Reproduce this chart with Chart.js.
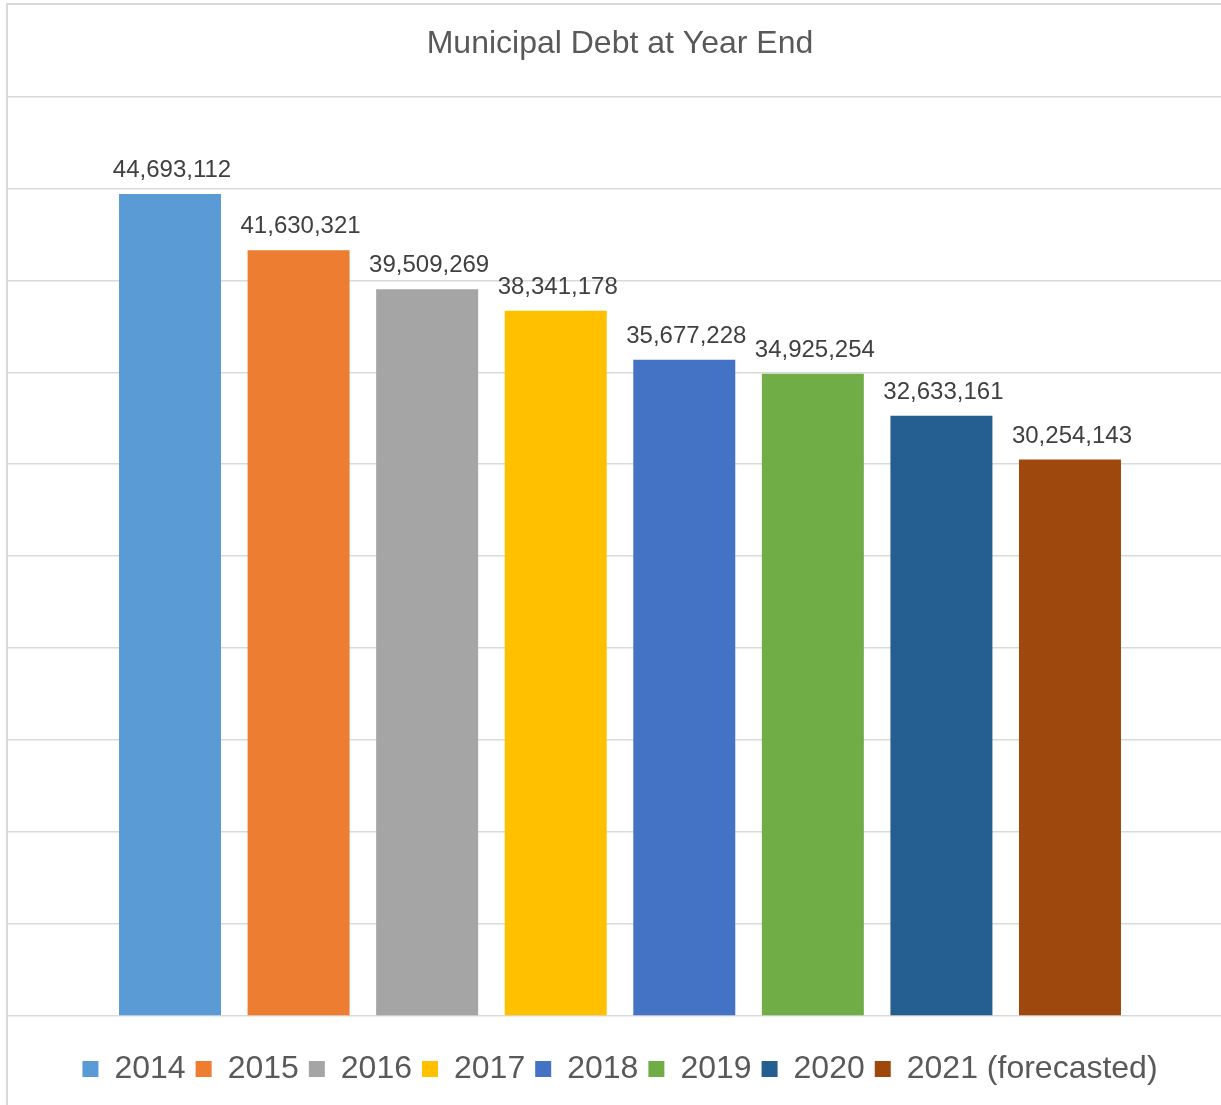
<!DOCTYPE html>
<html>
<head>
<meta charset="utf-8">
<script src="https://cdn.jsdelivr.net/npm/chart.js@4/dist/chart.umd.min.js"></script>
<style>
  html, body { margin: 0; padding: 0; overflow: hidden; background: #ffffff; width: 1221px; height: 1105px; }
  #wrap { position: absolute; left: 0; top: 0; width: 1240px; height: 1120px; }
  #frame { position: absolute; left: 6px; top: 3px; width: 2000px; height: 2000px;
           border-left: 2px solid #d9d9d9; border-top: 2px solid #d9d9d9; pointer-events: none; }
</style>
</head>
<body>
<div id="wrap"><canvas id="c" width="1240" height="1120"></canvas></div>
<div id="frame"></div>
<script>
const chartTitle = 'Municipal Debt at Year End';
const seriesNames = ['2014', '2015', '2016', '2017', '2018', '2019', '2020', '2021 (forecasted)'];
const seriesValues = [44693112, 41630321, 39509269, 38341178, 35677228, 34925254, 32633161, 30254143];
const seriesColors = ['#5B9BD5', '#ED7D31', '#A5A5A5', '#FFC000', '#4472C4', '#70AD47', '#255E91', '#9E480E'];
const yMin = 0;
const yMax = 50000000;
const yStep = 5000000;

const FONT = '"Liberation Sans", Arial, sans-serif';

const datasets = seriesNames.map((name, i) => ({
  label: name,
  data: [seriesValues[i]],
  backgroundColor: seriesColors[i],
  borderWidth: 0,
  barPercentage: 0.7933,
  categoryPercentage: 0.8403
}));

const valueLabels = {
  id: 'valueLabels',
  afterDatasetsDraw(chart) {
    const ctx = chart.ctx;
    ctx.save();
    ctx.font = '24px ' + FONT;
    ctx.fillStyle = '#404040';
    ctx.textAlign = 'center';
    ctx.textBaseline = 'alphabetic';
    chart.data.datasets.forEach((ds, i) => {
      const meta = chart.getDatasetMeta(i);
      const el = meta.data[0];
      if (!el) return;
      ctx.fillText(ds.data[0].toLocaleString('en-US'), el.x + 2, el.y - 17);
    });
    ctx.restore();
  }
};

new Chart(document.getElementById('c'), {
  type: 'bar',
  data: { labels: [''], datasets },
  options: {
    responsive: false,
    devicePixelRatio: 1,
    animation: false,
    layout: { padding: { left: 8, right: 8, top: 0, bottom: 25 } },
    scales: {
      x: {
        display: true,
        ticks: { display: false },
        grid: { display: false, drawTicks: false },
        border: { display: false },
        afterFit(scale) { scale.height = 27; }
      },
      y: {
        min: yMin,
        max: yMax,
        ticks: { display: false, stepSize: yStep },
        grid: { color: '#d9d9d9', lineWidth: 1.5, drawTicks: false },
        border: { display: false }
      }
    },
    plugins: {
      title: {
        display: true,
        text: chartTitle,
        color: '#595959',
        font: { family: FONT, size: 32, weight: 'normal' },
        padding: { top: 25, bottom: 33 }
      },
      legend: {
        display: true,
        position: 'bottom',
        labels: {
          color: '#595959',
          font: { family: FONT, size: 32 },
          boxWidth: 16,
          boxHeight: 16,
          padding: 10
        }
      },
      tooltip: { enabled: false }
    }
  },
  plugins: [valueLabels]
});
</script>
</body>
</html>
